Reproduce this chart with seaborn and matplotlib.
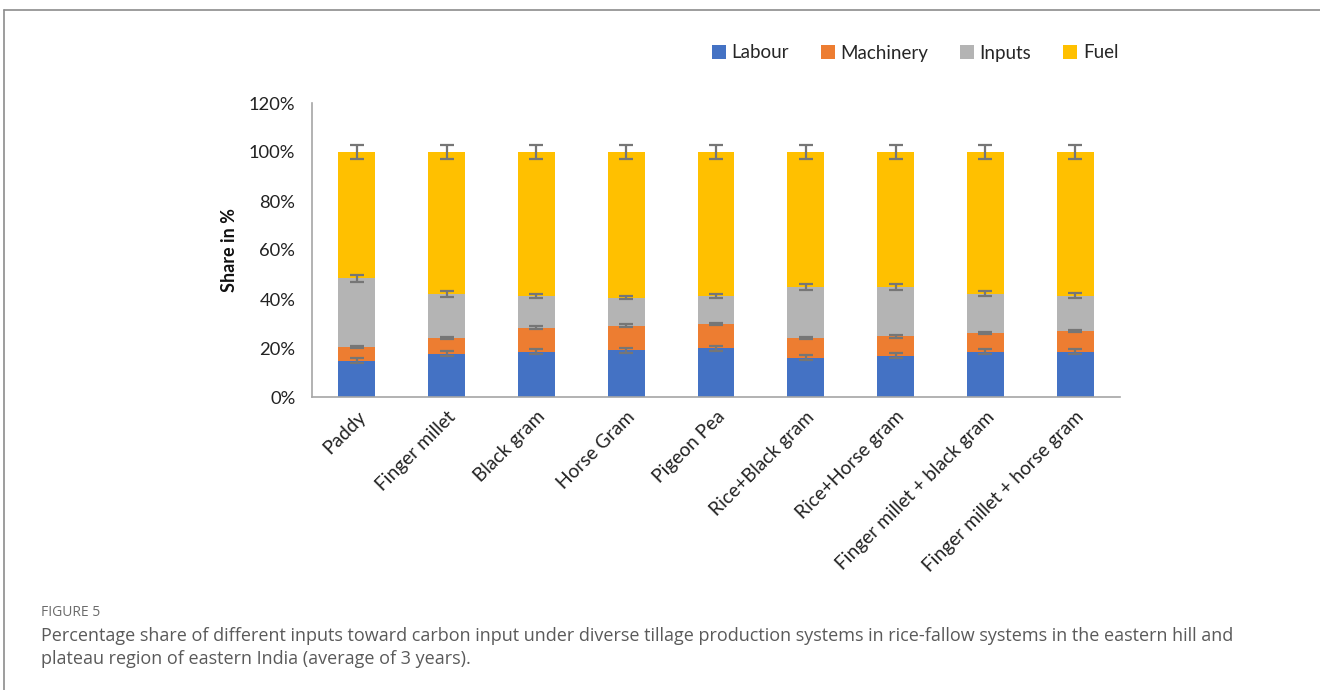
import matplotlib
matplotlib.use("Agg")
import matplotlib.pyplot as plt
import seaborn as sns
import numpy as np
import pandas as pd
from matplotlib.lines import Line2D
from matplotlib.patches import Patch
from matplotlib.ticker import FixedLocator, PercentFormatter

categories = ["Paddy", "Finger millet", "Black gram", "Horse Gram", "Pigeon Pea",
              "Rice+Black gram", "Rice+Horse gram", "Finger millet + black gram",
              "Finger millet + horse gram"]
labour = [14.8, 17.6, 18.4, 19.0, 19.8, 16.1, 16.9, 18.4, 18.4]
machinery = [5.7, 6.4, 9.9, 10.1, 10.0, 7.9, 7.8, 7.8, 8.6]
inputs = [28.0, 18.1, 13.0, 11.5, 11.5, 20.8, 20.1, 15.9, 14.3]
fuel = [51.5, 57.9, 58.7, 59.4, 58.7, 55.2, 55.2, 57.9, 58.7]
labour_err = [1.0, 1.0, 1.0, 1.0, 1.0, 1.1, 1.0, 1.0, 1.0]
machinery_err = [0.5, 0.5, 0.5, 0.5, 0.5, 0.5, 0.5, 0.5, 0.5]
inputs_err = [1.4, 1.1, 0.9, 0.8, 0.9, 1.2, 1.2, 1.0, 0.95]
fuel_err = [2.7, 2.9, 3.0, 3.0, 3.0, 2.9, 2.9, 3.0, 3.0]
series = ["Labour", "Machinery", "Inputs", "Fuel"]
colors = ["#4472C4", "#ED7D31", "#B4B4B4", "#FFC000"]

sns.set_style("white")
plt.rcParams["font.family"] = ["Lato", "DejaVu Sans"]

vals = [np.array(labour), np.array(machinery), np.array(inputs), np.array(fuel)]
errs = [labour_err, machinery_err, inputs_err, fuel_err]
cum = np.cumsum(np.vstack(vals), axis=0)

fig = plt.figure(figsize=(13.2, 6.9), dpi=100)
ax = fig.add_axes([312/1320, 1-397/690, 808/1320, 294/690])

# draw cumulative stacks from top layer down
for i in range(3, -1, -1):
    d = pd.DataFrame({"cat": categories, "v": cum[i]})
    sns.barplot(data=d, x="cat", y="v", color=colors[i], width=0.41,
                saturation=1, ax=ax, errorbar=None, linewidth=0, zorder=2)

xpos = np.arange(len(categories))
for i in range(4):
    ax.errorbar(xpos, cum[i], yerr=errs[i], fmt="none", ecolor="#767676",
                elinewidth=1.6, capsize=5.2, capthick=1.6, zorder=5)

ax.set_xlim(-0.5, len(categories) - 0.5)
ax.set_ylim(0, 120)
ax.yaxis.set_major_locator(FixedLocator([0, 20, 40, 60, 80, 100, 120]))
ax.yaxis.set_major_formatter(PercentFormatter(decimals=0))
ax.set_xticks(xpos)
ax.set_xticklabels(categories, rotation=45, ha="right", rotation_mode="anchor",
                   fontsize=13.8, color="#222222")
ax.xaxis.set_minor_locator(FixedLocator(np.arange(-0.5, len(categories), 1.0)))
ax.tick_params(axis="x", which="major", length=0, pad=8)
ax.tick_params(axis="x", which="minor", length=6, width=1.2, color="#A6A6A6", direction="out")
ax.tick_params(axis="y", length=6, width=1.2, color="#A6A6A6", direction="out",
               labelsize=13.2, labelcolor="#222222", pad=6)
ax.set_xlabel("")
ax.set_ylabel("Share in %", fontsize=13, fontweight="bold", color="#111111", labelpad=8)
for s in ["top", "right"]:
    ax.spines[s].set_visible(False)
for s in ["left", "bottom"]:
    ax.spines[s].set_color("#A6A6A6")
    ax.spines[s].set_linewidth(1.2)

handles = [Patch(facecolor=c, edgecolor="none") for c in colors]
leg = fig.legend(handles, series, loc="center", bbox_to_anchor=(915/1320, 1-53/690),
                 ncol=4, frameon=False, fontsize=13.5, handlelength=0.75, handleheight=0.75,
                 handletextpad=0.3, columnspacing=1.7)
for t in leg.get_texts():
    t.set_va("baseline")

# outer frame
fig.add_artist(Line2D([4/1320, 1.0], [1-10/690, 1-10/690], color="#8C8C8C", lw=1.2,
                      transform=fig.transFigure))
fig.add_artist(Line2D([4/1320, 4/1320], [0, 1-10/690], color="#8C8C8C", lw=1.2,
                      transform=fig.transFigure))

fig.text(41/1320, 1-613/690, "FIGURE 5", fontsize=10, color="#6b6b6b",
         family=["Open Sans", "DejaVu Sans"], va="center")
fig.text(41/1320, 1-636/690,
         "Percentage share of different inputs toward carbon input under diverse tillage production systems in rice-fallow systems in the eastern hill and",
         fontsize=13, color="#5a5a5a", family=["Open Sans", "DejaVu Sans"], va="center")
fig.text(41/1320, 1-659/690,
         "plateau region of eastern India (average of 3 years).",
         fontsize=13, color="#5a5a5a", family=["Open Sans", "DejaVu Sans"], va="center")

fig.savefig("out.png", dpi=100)
